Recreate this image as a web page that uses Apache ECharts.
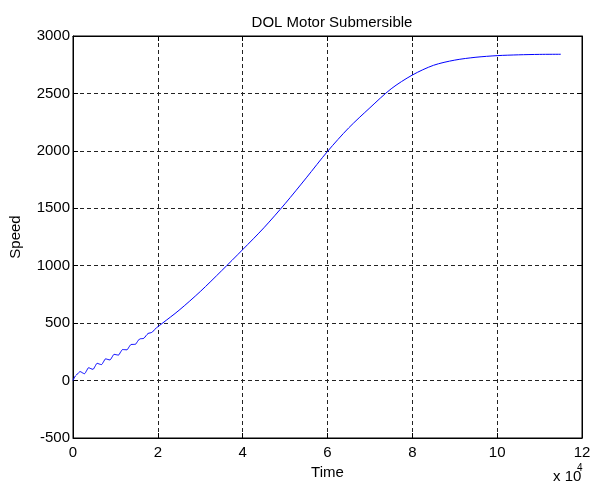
<!DOCTYPE html>
<html>
<head>
<meta charset="utf-8">
<script src="https://cdn.jsdelivr.net/npm/echarts@6/dist/echarts.min.js"></script>
<style>
  html, body { margin: 0; padding: 0; background: #fff; }
  #chart { width: 594px; height: 486px; }
</style>
</head>
<body>
<div id="chart"></div>
<script>
// time in units of 1e4 (axis shows "x 10^4")
var timeVals = [
  0, 0.04, 0.08, 0.12, 0.17, 0.22, 0.27, 0.32, 0.37, 0.42, 0.47, 0.52, 0.57, 0.62, 0.67,
  0.72, 0.77, 0.82, 0.87, 0.92, 0.97, 1.02, 1.07, 1.12, 1.17, 1.22, 1.27, 1.32, 1.37,
  1.42, 1.47, 1.52, 1.57, 1.62, 1.67, 1.72, 1.77, 1.82, 1.87, 1.92, 1.97, 2.1,
  2.5, 3.0, 3.5, 4.0, 4.5, 5.0, 5.5, 6.0, 6.5, 7.0, 7.5, 8.0, 8.5,
  9.0, 9.5, 10.0, 10.5, 11.0, 11.5
];
var speedVals = [
  0, 32, 48, 64, 78, 68, 60, 86, 112, 104, 98, 124, 150, 144, 139,
  164, 189, 184, 180, 204, 228, 225, 222, 247, 270, 269, 268, 292, 314,
  315, 316, 340, 362, 365, 368, 390, 410, 415, 422, 443, 460, 497,
  612, 775, 955, 1140, 1330, 1540, 1765, 1995, 2200, 2375, 2540, 2660, 2745,
  2790, 2815, 2829, 2836, 2840, 2841
];
var xTicks = [0, 2, 4, 6, 8, 10, 12];
var yTicks = [-500, 0, 500, 1000, 1500, 2000, 2500, 3000];

var points = timeVals.map(function (t, i) { return [t, speedVals[i]]; });

var chart = echarts.init(document.getElementById('chart'));
var font = 'Liberation Sans, Arial, sans-serif';
var gridLine = { show: true, lineStyle: { color: '#222', type: [4, 3], width: 1 } };
var line = { show: true, onZero: false, lineStyle: { color: '#000', width: 1 } };
var tick = { show: true, inside: true, length: 5, lineStyle: { color: '#000' } };

chart.setOption({
  animation: false,
  backgroundColor: '#fff',
  title: {
    text: 'DOL Motor Submersible',
    left: 327,
    top: 10,
    textAlign: 'center',
    textStyle: { fontFamily: font, fontSize: 15, fontWeight: 'normal', color: '#000' }
  },
  grid: {
    left: 73, right: 12, top: 36, bottom: 48,
    outerBoundsMode: 'none',
    show: true, borderColor: '#000', borderWidth: 1
  },
  xAxis: [{
    type: 'value',
    min: xTicks[0], max: xTicks[xTicks.length - 1], interval: 2,
    name: 'Time',
    nameLocation: 'middle',
    nameGap: 26,
    nameTextStyle: { fontFamily: font, fontSize: 15, color: '#000' },
    axisLine: line, axisTick: tick, splitLine: gridLine,
    axisLabel: { fontFamily: font, fontSize: 15, color: '#000', margin: 7 }
  }, {
    type: 'value', position: 'top',
    min: xTicks[0], max: xTicks[xTicks.length - 1], interval: 2,
    axisLine: line, axisTick: tick, splitLine: { show: false },
    axisLabel: { show: false }
  }],
  yAxis: [{
    type: 'value',
    min: yTicks[0], max: yTicks[yTicks.length - 1], interval: 500,
    name: 'Speed',
    nameLocation: 'middle',
    nameGap: 50,
    nameTextStyle: { fontFamily: font, fontSize: 15, color: '#000' },
    axisLine: line, axisTick: tick, splitLine: gridLine,
    axisLabel: {
      fontFamily: font, fontSize: 15, color: '#000', margin: 3,
      formatter: function (v) { return String(v); }
    }
  }, {
    type: 'value', position: 'right',
    min: yTicks[0], max: yTicks[yTicks.length - 1], interval: 500,
    axisLine: line, axisTick: tick, splitLine: { show: false },
    axisLabel: { show: false }
  }],
  graphic: [
    { type: 'text', left: 553, top: 469,
      style: { text: 'x 10', font: '15px ' + font, fill: '#000' } },
    { type: 'text', left: 577, top: 463,
      style: { text: '4', font: '10px ' + font, fill: '#000' } }
  ],
  series: [{
    type: 'line',
    data: points,
    showSymbol: false,
    smooth: 0.3,
    lineStyle: { color: '#0000ff', width: 1 }
  }]
});
</script>
</body>
</html>
